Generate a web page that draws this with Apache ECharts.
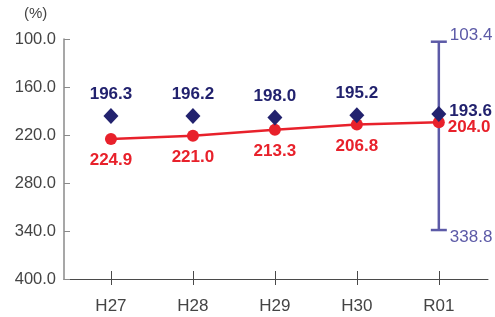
<!DOCTYPE html>
<html>
<head>
<meta charset="utf-8">
<script src="https://cdn.jsdelivr.net/npm/echarts@6/dist/echarts.min.js"></script>
<style>
  html, body { margin: 0; padding: 0; background: #fff; }
  #chart { width: 495px; height: 317px; }
</style>
</head>
<body>
<div id="chart"></div>
<script>
/* Inverted-axis chart: red line + navy diamonds, range bar at last year. */
const years = ["H27", "H28", "H29", "H30", "R01"];
const redVals = [224.9, 221.0, 213.3, 206.8, 204.0];
const navyVals = [196.3, 196.2, 198.0, 195.2, 193.6];
const rangeLow = 103.4, rangeHigh = 338.8; // R01 range
const yTicks = [100, 160, 220, 280, 340, 400];

const RED = "#e8212b", NAVY = "#22226e", PURPLE = "#5c5aa7", TXT = "#444";
const FONT = "'Liberation Sans', Arial, sans-serif";
const last = years.length - 1;
const idx = years.map((_, i) => i);

const mk = (vals, pos, dist) => vals.map((v, i) => ({
  value: [i, v],
  label: i === last ? { position: "right", distance: 3, offset: [0, pos === "top" ? -3 : 5] } : { position: pos, distance: dist },
}));

const chart = echarts.init(document.getElementById("chart"));
chart.setOption({
  animation: false,
  grid: { left: 64, right: 7, top: 39, bottom: 38 },
  graphic: [{ type: "text", left: 24, top: 6, style: { text: "(%)", font: "15px " + FONT, fill: TXT } }],
  xAxis: [
    { type: "value", min: -0.573, max: 4.6,
      axisLine: { onZero: false, lineStyle: { color: "#4a4a4a", width: 1 } },
      axisTick: { customValues: idx, length: 6, lineStyle: { color: "#4a4a4a" } },
      axisLabel: { customValues: idx, formatter: (v) => years[v], margin: 19, fontSize: 17, color: TXT, fontFamily: FONT },
      splitLine: { show: false } },
    { type: "value", min: -0.573, max: 4.6, position: "bottom",
      axisLine: { show: false, onZero: false },
      axisTick: { customValues: idx, inside: true, length: 8, lineStyle: { color: "#4a4a4a" } },
      axisLabel: { show: false }, splitLine: { show: false } },
  ],
  yAxis: {
    type: "value", inverse: true, min: yTicks[0], max: yTicks[yTicks.length - 1], interval: 60,
    axisLine: { show: true, onZero: false, lineStyle: { color: "#8a8a8a", width: 1.5 } },
    axisTick: { show: true, inside: true, length: 6, lineStyle: { color: "#8a8a8a" } },
    axisLabel: { formatter: (v) => v.toFixed(1), margin: 8, fontSize: 16.5, color: TXT, fontFamily: FONT },
    splitLine: { show: false },
  },
  series: [
    { type: "custom", coordinateSystem: "cartesian2d", z: 1,
      data: [[last, rangeLow, rangeHigh]],
      renderItem: (params, api) => {
        const top = api.coord([api.value(0), api.value(1)]);
        const bot = api.coord([api.value(0), api.value(2)]);
        const w = 8, st = { stroke: PURPLE, lineWidth: 2.5 };
        return { type: "group", children: [
          { type: "line", shape: { x1: top[0], y1: top[1], x2: bot[0], y2: bot[1] }, style: st },
          { type: "line", shape: { x1: top[0] - w, y1: top[1], x2: top[0] + w, y2: top[1] }, style: st },
          { type: "line", shape: { x1: bot[0] - w, y1: bot[1], x2: bot[0] + w, y2: bot[1] }, style: st },
          { type: "text", x: top[0] + 11, y: top[1] - 6, style: { text: api.value(1).toFixed(1), font: "17px " + FONT, fill: PURPLE, verticalAlign: "middle" } },
          { type: "text", x: bot[0] + 11, y: bot[1] + 7, style: { text: api.value(2).toFixed(1), font: "17px " + FONT, fill: PURPLE, verticalAlign: "middle" } },
        ] };
      } },
    { type: "line", data: mk(redVals, "bottom", 7), z: 3,
      lineStyle: { color: RED, width: 2.5 }, itemStyle: { color: RED, opacity: 1 },
      symbol: "circle", symbolSize: 12,
      label: { show: true, formatter: (p) => p.value[1].toFixed(1), color: RED, fontSize: 17, fontWeight: "bold", fontFamily: FONT } },
    { type: "scatter", data: mk(navyVals, "top", 5), z: 4,
      symbol: "diamond", symbolSize: [15, 16], itemStyle: { color: NAVY, opacity: 1 },
      label: { show: true, formatter: (p) => p.value[1].toFixed(1), color: NAVY, fontSize: 17, fontWeight: "bold", fontFamily: FONT } },
  ],
});
</script>
</body>
</html>
